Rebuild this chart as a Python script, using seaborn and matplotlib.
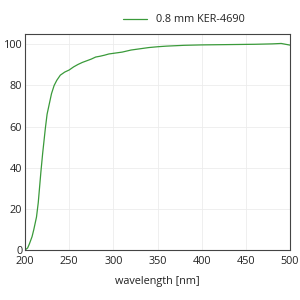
import matplotlib
matplotlib.use("Agg")
import matplotlib.pyplot as plt
import seaborn as sns
import pandas as pd

wavelength = [200, 203, 205, 208, 210, 213, 215, 218, 220, 223, 225, 228, 230, 233, 236, 240, 245, 250,
              255, 260, 265, 270, 275, 280, 285, 290, 295, 300, 310, 320, 330, 340, 350, 360, 370,
              380, 400, 420, 440, 460, 480, 490, 495, 500]
transmission = [0, 1, 3, 6.5, 10, 16, 23, 38, 47, 59, 66, 72, 76, 80, 82.5, 85, 86.5, 87.5,
                89, 90.2, 91.2, 92, 92.8, 93.8, 94.2, 94.7, 95.3, 95.6, 96.2, 97.2, 97.8, 98.4, 98.8, 99.1, 99.3,
                99.5, 99.7, 99.8, 99.9, 100.0, 100.2, 100.4, 100.0, 99.6]
series_label = "0.8 mm KER-4690"

df = pd.DataFrame({"wavelength": wavelength, "T": transmission, "s": series_label})

sns.set_theme(style="white")
plt.rcParams['font.family'] = ['Open Sans', 'DejaVu Sans']

fig = plt.figure(figsize=(3, 3), dpi=100)
ax = fig.add_axes([25/300, 50/300, 265/300, 216/300])
sns.lineplot(data=df, x="wavelength", y="T", hue="s", palette=["#3a9a3a"], linewidth=0.9, ax=ax)

ax.set_xlim(200, 500)
ax.set_ylim(0, 105)
ax.set_xticks([200, 250, 300, 350, 400, 450, 500])
ax.set_yticks([0, 20, 40, 60, 80, 100])
ax.grid(True, color="#ececec", linewidth=0.6)
ax.tick_params(direction="in", length=3, width=0.7, colors="#555555", labelcolor="#222222", labelsize=7.8)
ax.tick_params(axis="x", pad=4)
ax.tick_params(axis="y", pad=2)
for sp in ax.spines.values():
    sp.set_color("#444444")
    sp.set_linewidth(0.8)
ax.set_xlabel("wavelength [nm]", fontsize=7.8, color="#222222", labelpad=7)
ax.set_ylabel("")
leg = ax.legend(loc="lower center", bbox_to_anchor=(0.6, 1.02), frameon=False, fontsize=7.8,
                handlelength=2.2, borderaxespad=0)
for t in leg.get_texts():
    t.set_color("#222222")
fig.savefig("out.png", dpi=100, facecolor="white")
